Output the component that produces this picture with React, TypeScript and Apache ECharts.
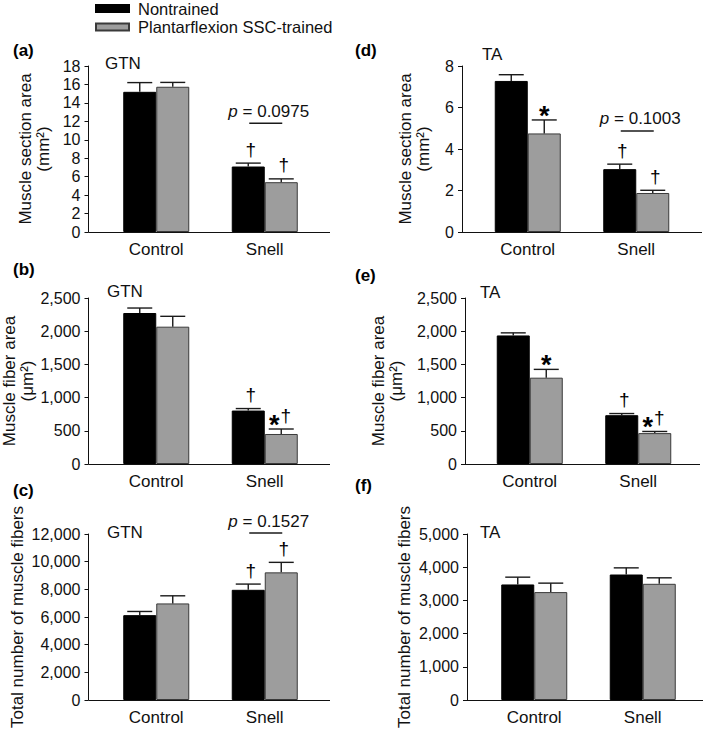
import React, { useEffect, useRef } from 'react';
import * as echarts from 'echarts';

const categories = ['Control', 'Snell'];
const seriesNames = ['Nontrained', 'Plantarflexion SSC-trained'];

// (a) GTN muscle section area (mm²)
const gtnCsaNon = [15.2, 7.1];
const gtnCsaNonErr = [1.0, 0.37];
const gtnCsaSsc = [15.75, 5.4];
const gtnCsaSscErr = [0.47, 0.36];
const gtnCsaNonMarks = ['', '†'];
const gtnCsaSscMarks = ['', '†'];
const gtnCsaTicks = [0, 18, 2];

// (b) GTN muscle fiber area (µm²)
const gtnFiberNon = [2274, 805];
const gtnFiberNonErr = [75, 30];
const gtnFiberSsc = [2068, 452];
const gtnFiberSscErr = [156, 75];
const gtnFiberNonMarks = ['', '†'];
const gtnFiberSscMarks = ['', '*†'];
const gtnFiberTicks = [0, 2500, 500];

// (c) GTN total number of fibers
const gtnCountNon = [6134, 7966];
const gtnCountNonErr = [266, 414];
const gtnCountSsc = [6981, 9226];
const gtnCountSscErr = [551, 724];
const gtnCountNonMarks = ['', '†'];
const gtnCountSscMarks = ['', '†'];
const gtnCountTicks = [0, 12000, 2000];

// (d) TA muscle section area (mm²)
const taCsaNon = [7.28, 3.03];
const taCsaNonErr = [0.3, 0.24];
const taCsaSsc = [4.75, 1.88];
const taCsaSscErr = [0.65, 0.13];
const taCsaNonMarks = ['', '†'];
const taCsaSscMarks = ['*', '†'];
const taCsaTicks = [0, 8, 2];

// (e) TA muscle fiber area (µm²)
const taFiberNon = [1936, 735];
const taFiberNonErr = [39, 25];
const taFiberSsc = [1300, 465];
const taFiberSscErr = [125, 25];
const taFiberNonMarks = ['', '†'];
const taFiberSscMarks = ['*', '*†'];
const taFiberTicks = [0, 2500, 500];

// (f) TA total number of fibers
const taCountNon = [3480, 3780];
const taCountNonErr = [220, 200];
const taCountSsc = [3250, 3500];
const taCountSscErr = [270, 180];
const taCountNonMarks = ['', ''];
const taCountSscMarks = ['', ''];
const taCountTicks = [0, 5000, 1000];

// p-value brackets: category index, bracket level (data units), p text
const gtnCsaP = { cat: 1, level: 11.8, value: '0.0975' };
const gtnCountP = { cat: 1, level: 12070, value: '0.1527' };
const taCsaP = { cat: 1, level: 4.87, value: '0.1003' };

const FONT = '"Liberation Sans", Arial, Helvetica, sans-serif';
const INK = '#111';
const BAR_W = 33;
const GRID_W = 217;
const GRID_H = 166;
const FS = 17;

type PanelData = {
  tag: string;
  muscle: string;
  yName: string;
  ticks: number[];
  non: number[];
  nonErr: number[];
  ssc: number[];
  sscErr: number[];
  nonMarks: string[];
  sscMarks: string[];
  p?: { cat: number; level: number; value: string };
};

const panelData: PanelData[] = [
  { tag: '(a)', muscle: 'GTN', yName: 'Muscle section area\n(mm²)', ticks: gtnCsaTicks, non: gtnCsaNon, nonErr: gtnCsaNonErr, ssc: gtnCsaSsc, sscErr: gtnCsaSscErr, nonMarks: gtnCsaNonMarks, sscMarks: gtnCsaSscMarks, p: gtnCsaP },
  { tag: '(b)', muscle: 'GTN', yName: 'Muscle fiber area\n(μm²)', ticks: gtnFiberTicks, non: gtnFiberNon, nonErr: gtnFiberNonErr, ssc: gtnFiberSsc, sscErr: gtnFiberSscErr, nonMarks: gtnFiberNonMarks, sscMarks: gtnFiberSscMarks },
  { tag: '(c)', muscle: 'GTN', yName: 'Total number of muscle fibers', ticks: gtnCountTicks, non: gtnCountNon, nonErr: gtnCountNonErr, ssc: gtnCountSsc, sscErr: gtnCountSscErr, nonMarks: gtnCountNonMarks, sscMarks: gtnCountSscMarks, p: gtnCountP },
  { tag: '(d)', muscle: 'TA', yName: 'Muscle section area\n(mm²)', ticks: taCsaTicks, non: taCsaNon, nonErr: taCsaNonErr, ssc: taCsaSsc, sscErr: taCsaSscErr, nonMarks: taCsaNonMarks, sscMarks: taCsaSscMarks, p: taCsaP },
  { tag: '(e)', muscle: 'TA', yName: 'Muscle fiber area\n(μm²)', ticks: taFiberTicks, non: taFiberNon, nonErr: taFiberNonErr, ssc: taFiberSsc, sscErr: taFiberSscErr, nonMarks: taFiberNonMarks, sscMarks: taFiberSscMarks },
  { tag: '(f)', muscle: 'TA', yName: 'Total number of muscle fibers', ticks: taCountTicks, non: taCountNon, nonErr: taCountNonErr, ssc: taCountSsc, sscErr: taCountSscErr, nonMarks: taCountNonMarks, sscMarks: taCountSscMarks },
];

// layout (pixels)
const layout = [
  { axisX: 88.5, gridLeft: 102, top: 66, xEnd: 330, nameGap: 36, tagPos: [13, 50], musclePos: [105, 63] },
  { axisX: 88.5, gridLeft: 102, top: 298, xEnd: 330, nameGap: 51, tagPos: [13, 269], musclePos: [107, 291] },
  { axisX: 88.5, gridLeft: 102, top: 534, xEnd: 330, nameGap: 62, tagPos: [13, 490], musclePos: [107, 532] },
  { axisX: 462, gridLeft: 473.5, top: 66, xEnd: 702, nameGap: 30, tagPos: [355, 50], musclePos: [482, 54] },
  { axisX: 465, gridLeft: 475.5, top: 298, xEnd: 700, nameGap: 60, tagPos: [355, 275], musclePos: [480, 292] },
  { axisX: 467, gridLeft: 480, top: 534, xEnd: 703, nameGap: 54, tagPos: [355, 485], musclePos: [480, 532] },
];

function buildOption() {
  const grid: any[] = [];
  const xAxis: any[] = [];
  const yAxis: any[] = [];
  const series: any[] = [];
  const graphic: any[] = [];

  panelData.forEach((p, i) => {
    const L = layout[i];
    grid.push({ left: L.gridLeft, top: L.top, width: GRID_W, height: GRID_H, outerBoundsMode: 'none', containLabel: false });
    xAxis.push({
      type: 'category', gridIndex: i, data: categories,
      axisLine: { show: false }, axisTick: { show: false },
      axisLabel: { margin: 9, fontSize: FS, color: INK, fontFamily: FONT },
    });
    yAxis.push({
      type: 'value', gridIndex: i, min: p.ticks[0], max: p.ticks[1], interval: p.ticks[2],
      offset: L.gridLeft - L.axisX,
      axisLine: { show: true, lineStyle: { color: INK, width: 1 } },
      axisTick: { show: true, length: 4, lineStyle: { color: INK } },
      splitLine: { show: false },
      axisLabel: { fontSize: 16, color: INK, margin: 8, fontFamily: FONT, formatter: (v: number) => v.toLocaleString('en-US') },
      name: p.yName, nameLocation: 'middle', nameRotate: 90, nameGap: L.nameGap,
      nameTextStyle: { fontSize: FS, color: INK, fontFamily: FONT, lineHeight: 18 },
    });

    series.push({
      type: 'bar', name: seriesNames[0], xAxisIndex: i, yAxisIndex: i, data: p.non,
      barWidth: BAR_W, barGap: '0%',
      itemStyle: { color: '#000', borderColor: '#000', borderWidth: 1 },
    });
    series.push({
      type: 'bar', name: seriesNames[1], xAxisIndex: i, yAxisIndex: i, data: p.ssc,
      barWidth: BAR_W, barGap: '0%',
      itemStyle: { color: '#9d9d9d', borderColor: '#3a3a3a', borderWidth: 1 },
    });

    // error bars
    const errData: number[][] = [];
    p.non.forEach((v, c) => errData.push([c, v, p.nonErr[c], 0]));
    p.ssc.forEach((v, c) => errData.push([c, v, p.sscErr[c], 1]));
    series.push({
      type: 'custom', xAxisIndex: i, yAxisIndex: i, data: errData, z: 5, silent: true,
      renderItem: (_params: any, api: any) => {
        const c = api.value(0), v = api.value(1), e = api.value(2), s = api.value(3);
        const base = api.coord([c, v]);
        const top = api.coord([c, v + e]);
        const x = base[0] + (s === 0 ? -BAR_W / 2 : BAR_W / 2);
        const st = { stroke: '#1a1a1a', lineWidth: 1.4 };
        return {
          type: 'group', children: [
            { type: 'line', shape: { x1: x, y1: base[1], x2: x, y2: top[1] }, style: st },
            { type: 'line', shape: { x1: x - 12.5, y1: top[1], x2: x + 12.5, y2: top[1] }, style: st },
          ],
        };
      },
    });

    // significance marks
    const marks: { cat: number; s: number; top: number; text: string }[] = [];
    p.nonMarks.forEach((t, c) => { if (t) marks.push({ cat: c, s: 0, top: p.non[c] + p.nonErr[c], text: t }); });
    p.sscMarks.forEach((t, c) => { if (t) marks.push({ cat: c, s: 1, top: p.ssc[c] + p.sscErr[c], text: t }); });
    if (marks.length) {
      series.push({
        type: 'custom', xAxisIndex: i, yAxisIndex: i, z: 6, silent: true,
        data: marks.map((m) => [m.cat, m.top, m.s]),
        renderItem: (params: any, api: any) => {
          const m = marks[params.dataIndex];
          const pt = api.coord([m.cat, m.top]);
          const cx = pt[0] + (m.s === 0 ? -BAR_W / 2 : BAR_W / 2);
          const children: any[] = [];
          const hasStar = m.text.includes('*');
          const hasDag = m.text.includes('†');
          const both = hasStar && hasDag;
          if (hasStar) {
            children.push({
              type: 'text', x: both ? cx - 7 : cx, y: pt[1] - 4,
              style: { text: '*', font: `bold 27px ${FONT}`, fill: '#000', align: 'center', verticalAlign: 'middle', textAlign: 'center', textVerticalAlign: 'middle' },
            });
          }
          if (hasDag) {
            children.push({
              type: 'text', x: both ? cx + 4.5 : cx + 2.5, y: pt[1] - 14,
              style: { text: '†', font: `19px ${FONT}`, fill: '#000', align: 'center', verticalAlign: 'middle', textAlign: 'center', textVerticalAlign: 'middle' },
            });
          }
          return { type: 'group', children };
        },
      });
    }

    // p-value bracket
    if (p.p) {
      const pp = p.p;
      series.push({
        type: 'custom', xAxisIndex: i, yAxisIndex: i, z: 6, silent: true,
        data: [[pp.cat, pp.level]],
        renderItem: (_params: any, api: any) => {
          const pt = api.coord([api.value(0), api.value(1)]);
          const x1 = pt[0] - BAR_W / 2 + 1;
          const x2 = pt[0] + BAR_W / 2 + 1;
          return {
            type: 'group', children: [
              { type: 'line', shape: { x1, y1: pt[1], x2, y2: pt[1] }, style: { stroke: '#1a1a1a', lineWidth: 1.4 } },
              {
                type: 'text', x: pt[0] + 4, y: pt[1] - 12,
                style: {
                  text: `{i|p} = ${pp.value}`, font: `${FS}px ${FONT}`, fill: INK,
                  align: 'center', verticalAlign: 'middle', textAlign: 'center', textVerticalAlign: 'middle',
                  rich: { i: { fontStyle: 'italic', fontSize: FS, fontFamily: FONT, fill: INK } },
                },
              },
            ],
          };
        },
      });
    }

    // x axis line spanning from y axis to the end
    const yBase = L.top + GRID_H + 0.5;
    graphic.push({
      type: 'line', silent: true,
      shape: { x1: L.axisX, y1: yBase, x2: L.xEnd, y2: yBase },
      style: { stroke: INK, lineWidth: 1 },
    });
    graphic.push({
      type: 'text', x: L.tagPos[0], y: L.tagPos[1], silent: true,
      style: { text: p.tag, font: `bold ${FS}px ${FONT}`, fill: '#000', textVerticalAlign: 'middle', verticalAlign: 'middle' },
    });
    graphic.push({
      type: 'text', x: L.musclePos[0], y: L.musclePos[1], silent: true,
      style: { text: p.muscle, font: `${FS}px ${FONT}`, fill: INK, textVerticalAlign: 'middle', verticalAlign: 'middle' },
    });
  });

  return {
    animation: false,
    backgroundColor: '#fff',
    textStyle: { fontFamily: FONT },
    legend: {
      data: seriesNames, orient: 'vertical', left: 95, top: 0, padding: 0,
      itemWidth: 33, itemHeight: 7, itemGap: 1.5, icon: 'rect', selectedMode: false,
      textStyle: { fontSize: 16.5, lineHeight: 15.5, color: INK, fontFamily: FONT, padding: [0, 0, 0, 4] },
    },
    grid, xAxis, yAxis, series, graphic,
  };
}

export default function App() {
  const ref = useRef<HTMLDivElement>(null);
  useEffect(() => {
    document.body.style.margin = '0';
    if (!ref.current) return;
    const chart = echarts.init(ref.current, undefined, { renderer: 'svg' });
    chart.setOption(buildOption() as any);
    return () => chart.dispose();
  }, []);
  return <div ref={ref} style={{ width: 709, height: 730 }} />;
}
